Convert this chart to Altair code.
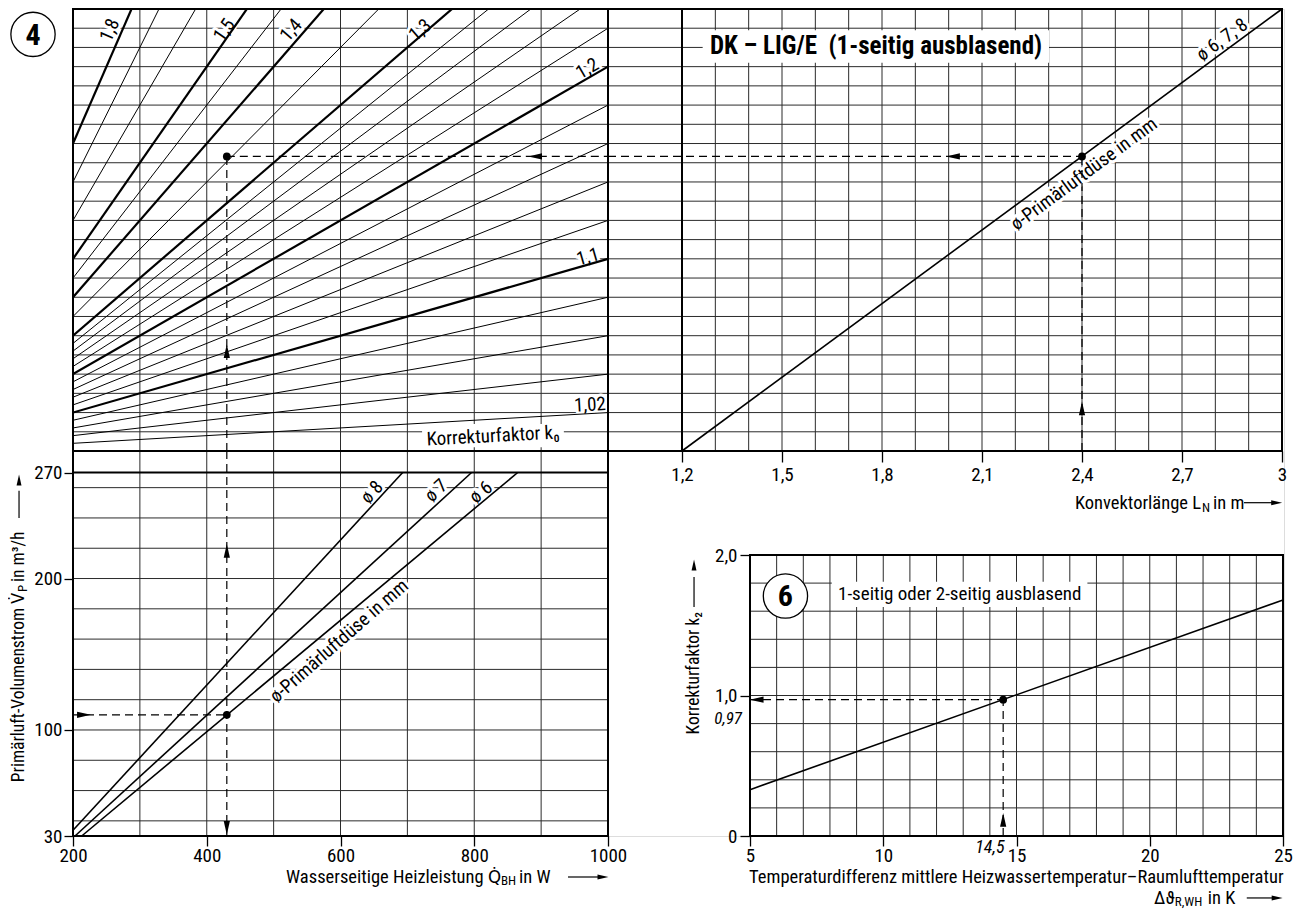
import altair as alt
import pandas as pd

FONT = "Liberation Sans Narrow, Arial Narrow, Roboto Condensed, DejaVu Sans Condensed, Liberation Sans, sans-serif"

# ================= values =================
# Panel 4, upper left: correction factor k0 fan (x = Q_BH in W, y = nomogram grid units 0..23)
k0_values   = [1.02, 1.04, 1.06, 1.08, 1.10, 1.12, 1.14, 1.16, 1.18, 1.20, 1.22,
               1.24, 1.26, 1.28, 1.30, 1.35, 1.40, 1.45, 1.50, 1.60, 1.70, 1.80]
k0_u_q200   = [0.4, 0.8, 1.2, 1.6, 2.0, 2.4, 2.8, 3.2, 3.6, 4.0, 4.4,
               4.8, 5.2, 5.6, 6.0, 7.0, 8.0, 9.0, 10.0, 12.0, 14.0, 16.0]
k0_u_q1000  = [2, 4, 6, 8, 10, 12, 14, 16, 18, 20, 22,
               24, 26, 28, 30, 35, 40, 45, 50, 60, 70, 80]
k0_bold     = [1.10, 1.20, 1.30, 1.40, 1.50, 1.80]
k0_lbl_text = ["1,8", "1,5", "1,4", "1,3", "1,2", "1,1", "1,02"]
k0_lbl_q    = [255, 426, 526, 719, 969, 970, 973]
k0_lbl_u    = [21.9, 21.9, 21.9, 21.9, 19.9, 10.1, 2.4]
k0_lbl_ang  = [293.5, 304.8, 311, 319.2, 330, 344, 356.7]

# Panel 4, upper right: convector length line (nozzles 6, 7, 8)
len_line_m = [1.2, 3.0]
len_line_u = [0, 23]
len_ticks  = [1.2, 1.5, 1.8, 2.1, 2.4, 2.7, 3.0]

# Panel 4, lower left: primary air volume flow vs. water-side heat output
nozzle_names   = ["ø 8", "ø 7", "ø 6"]
nozzle_q_start = [200, 203, 213]
nozzle_v_start = [33.8, 30, 30]
nozzle_q_end   = [693, 796, 865]
nozzle_v_end   = [270, 270, 270]
nozzle_lbl_q   = [647, 743, 810]
nozzle_lbl_v   = [257, 258, 257]
nozzle_lbl_ang = [312.7, 317.5, 320.2]
q_ticks = [200, 400, 600, 800, 1000]
v_ticks = [30, 100, 200, 270]

# Panel 6: correction factor k2 vs. temperature difference
dt_line  = [5, 25]
k2_line  = [0.33, 1.68]
dt_ticks = [5, 10, 15, 20, 25]
k2_ticks = [0, 1, 2]

# worked example
ex_q, ex_v, ex_len, ex_u, ex_dt, ex_k2 = 430, 110, 2.4, 15.33, 14.5, 0.97

# ================= layout: one scale pair per panel =================
W, H = 1211, 827
L_MIN = 0.978
V_TOP = 284.2
S = {
    "TL": (dict(domain=[200, 1000], range=[0, 535]), dict(domain=[0, 23], range=[442, 0])),
    "TR": (dict(domain=[L_MIN, 3.0], range=[535, 1209]), dict(domain=[0, 23], range=[442, 0])),
    "BL": (dict(domain=[200, 1000], range=[0, 535]), dict(domain=[30, V_TOP], range=[827, 442])),
    "P6": (dict(domain=[5, 25], range=[677, 1210]), dict(domain=[0, 2], range=[827, 546])),
}

LBL = 19      # labels on the diagrams
TTL = 18.5    # axis titles
SUB = 13      # subscripts


def E(p, x, y, x2=None, y2=None, xaxis=None, yaxis=None):
    sx, sy = S[p]
    d = {
        "x": alt.X(x, type="quantitative", scale=alt.Scale(nice=False, zero=False, **sx), axis=xaxis),
        "y": alt.Y(y, type="quantitative", scale=alt.Scale(nice=False, zero=False, **sy), axis=yaxis),
    }
    if x2 is not None:
        d["x2"] = alt.X2(x2)
    if y2 is not None:
        d["y2"] = alt.Y2(y2)
    return d


def rule_layer(p, rows, width=1.0, color="#2b2b2b", dash=None, clip=False, xaxis=None, yaxis=None):
    df = pd.DataFrame(rows, columns=["x0", "y0", "x1", "y1"])
    kw = dict(color=color, strokeWidth=width)
    if dash is not None:
        kw["strokeDash"] = dash
    if clip:
        kw["clip"] = True
    return alt.Chart(df).mark_rule(**kw).encode(**E(p, "x0", "y0", "x1", "y1", xaxis, yaxis))


def box_layer(p, rows, white=True, xaxis=None, yaxis=None):
    df = pd.DataFrame(rows, columns=["x0", "y0", "x1", "y1"])
    if white:
        mk = alt.Chart(df).mark_rect(color="white")
    else:
        mk = alt.Chart(df).mark_rect(filled=False, color="black", strokeWidth=2)
    return mk.encode(**E(p, "x0", "y0", "x1", "y1", xaxis, yaxis))


def text_layer(p, rows, size=LBL, align="center", weight="normal", style="normal", halo=False):
    df = pd.DataFrame(rows, columns=["x", "y", "t", "a"])
    enc = E(p, "x", "y")
    enc["text"] = alt.Text("t:N")
    enc["angle"] = alt.Angle("a:Q", scale=None)
    props = dict(font=FONT, fontSize=size, align=align, baseline="middle",
                 fontWeight=weight, fontStyle=style)
    if halo:
        mk = alt.Chart(df).mark_text(color="white", stroke="white", strokeWidth=6,
                                     strokeJoin="round", **props)
    else:
        mk = alt.Chart(df).mark_text(color="black", **props)
    return mk.encode(**enc)


ARROW = {
    "up": "M0,-1L0.45,1L-0.45,1Z",
    "down": "M0,1L0.45,-1L-0.45,-1Z",
    "left": "M-1,0L1,-0.45L1,0.45Z",
    "right": "M1,0L-1,-0.45L-1,0.45Z",
}


def arrow_layer(p, rows, size=190):
    df = pd.DataFrame([(x, y, ARROW[d]) for x, y, d in rows], columns=["x", "y", "s"])
    enc = E(p, "x", "y")
    enc["shape"] = alt.Shape("s:N", scale=None)
    return alt.Chart(df).mark_point(filled=True, color="black", opacity=1, size=size,
                                    strokeWidth=0).encode(**enc)


def dot_layer(p, rows, size=60):
    df = pd.DataFrame(rows, columns=["x", "y"])
    return alt.Chart(df).mark_circle(color="black", opacity=1, size=size).encode(**E(p, "x", "y"))


def ring_layer(p, rows, size=1960):
    df = pd.DataFrame(rows, columns=["x", "y"])
    return alt.Chart(df).mark_circle(color="white", opacity=1, size=size, stroke="black",
                                     strokeWidth=1.3).encode(**E(p, "x", "y"))


AX = dict(domain=False, grid=False, ticks=True, tickColor="black", tickWidth=1.3,
          labelFont=FONT, labelFontSize=19, labelColor="black", labelFlush=False,
          labelOverlap=False, labelBound=False, title=None)
comma1 = "replace(format(datum.value, '.1f'), '.', ',')"
ax_bl_x = alt.Axis(orient="bottom", offset=0, values=q_ticks, tickSize=10, labelPadding=0,
                   format="d", **AX)
ax_bl_y = alt.Axis(orient="left", offset=0, values=v_ticks, tickSize=9, labelPadding=2,
                   format="d", **AX)
ax_tr_x = alt.Axis(orient="bottom", offset=442 - H, values=len_ticks, tickSize=11, labelPadding=3,
                   labelExpr="datum.value == 3 ? '3' : " + comma1, **AX)
ax_p6_x = alt.Axis(orient="bottom", offset=0, values=dt_ticks, tickSize=10, labelPadding=0,
                   format="d", **AX)
ax_p6_y = alt.Axis(orient="left", offset=-677, values=k2_ticks, tickSize=10, labelPadding=3,
                   labelExpr="datum.value == 0 ? '0' : " + comma1, **AX)

layers = []

# ---------- grid lines ----------
tl_q_grid = list(range(300, 1000, 100))
grid_u = list(range(1, 23))
tr_l_grid = [round(1.2 + 0.1 * i, 1) for i in range(1, 18)]
bl_v_grid = list(range(40, 270, 20))
p6_t_grid = list(range(6, 25))
p6_k_grid = [round(0.2 * i, 1) for i in range(1, 10)]

layers.append(rule_layer("TL", [(200, u, 1000, u) for u in grid_u] + [(q, 0, q, 23) for q in tl_q_grid]))
layers.append(rule_layer("TR", [(L_MIN, u, 3.0, u) for u in grid_u] + [(l, 0, l, 23) for l in tr_l_grid]))
layers.append(rule_layer("BL", [(200, v, 1000, v) for v in bl_v_grid] + [(q, 30, q, V_TOP) for q in tl_q_grid]))
layers.append(rule_layer("P6", [(5, k, 25, k) for k in p6_k_grid] + [(t, 0, t, 2) for t in p6_t_grid]))

# heavier reference lines
layers.append(rule_layer("TR", [(1.2, 0, 1.2, 23)], width=2, color="black"))
layers.append(rule_layer("BL", [(200, 270, 1000, 270)], width=2.2, color="black"))

# ---------- white label backgrounds ----------
layers.append(box_layer("TR", [(1.262, 20.2, 2.301, 21.9)]))
layers.append(box_layer("TL", [(722, 0.2, 934, 1.4)]))
layers.append(box_layer("P6", [(8.07, 1.63, 17.66, 1.81)]))

tl_lbl_rows = list(zip(k0_lbl_q, k0_lbl_u, k0_lbl_text, k0_lbl_ang))
tr_lbl_rows = [(2.82, 21.4, "ø 6, 7, 8", 323.6), (2.406, 14.42, "ø-Primärluftdüse in mm", 323.6)]
bl_lbl_rows = list(zip(nozzle_lbl_q, nozzle_lbl_v, nozzle_names, nozzle_lbl_ang)) + \
    [(597.8, 158.7, "ø-Primärluftdüse in mm", 318.9)]
layers.append(text_layer("TL", tl_lbl_rows, halo=True))
layers.append(text_layer("TR", tr_lbl_rows, halo=True))
layers.append(text_layer("BL", bl_lbl_rows, halo=True))

# ---------- data lines ----------
thin = [(200, a, 1000, b) for k, a, b in zip(k0_values, k0_u_q200, k0_u_q1000) if k not in k0_bold]
bold = [(200, a, 1000, b) for k, a, b in zip(k0_values, k0_u_q200, k0_u_q1000) if k in k0_bold]
layers.append(rule_layer("TL", thin, width=1.0, color="black", clip=True))
layers.append(rule_layer("TL", bold, width=2.2, color="black", clip=True))
layers.append(rule_layer("TR", [(len_line_m[0], len_line_u[0], len_line_m[1], len_line_u[1])],
                         width=1.6, color="black"))
layers.append(rule_layer("BL", list(zip(nozzle_q_start, nozzle_v_start, nozzle_q_end, nozzle_v_end)),
                         width=1.6, color="black"))
layers.append(rule_layer("P6", [(dt_line[0], k2_line[0], dt_line[1], k2_line[1])], width=1.6, color="black"))

# ---------- worked example (dashed) ----------
DASH = [8, 5]
layers.append(rule_layer("TL", [(ex_q, 0, ex_q, ex_u), (ex_q, ex_u, 1000, ex_u)], width=1.2, color="black", dash=DASH))
layers.append(rule_layer("TR", [(L_MIN, ex_u, ex_len, ex_u), (ex_len, 0, ex_len, ex_u)], width=1.2, color="black", dash=DASH))
layers.append(rule_layer("BL", [(ex_q, 30, ex_q, V_TOP), (200, ex_v, ex_q, ex_v)], width=1.2, color="black", dash=DASH))
layers.append(rule_layer("P6", [(5, ex_k2, ex_dt, ex_k2), (ex_dt, 0, ex_dt, ex_k2)], width=1.2, color="black", dash=DASH))

# ---------- panel borders + axes ----------
layers.append(box_layer("TL", [(200, 0, 1000, 23)], white=False))
layers.append(box_layer("TR", [(L_MIN, 0, 3.0, 23)], white=False, xaxis=ax_tr_x))
layers.append(box_layer("BL", [(200, 30, 1000, V_TOP)], white=False, xaxis=ax_bl_x, yaxis=ax_bl_y))
layers.append(box_layer("P6", [(5, 0, 25, 2)], white=False, xaxis=ax_p6_x, yaxis=ax_p6_y))

# ---------- dots and arrows ----------
layers.append(dot_layer("TL", [(ex_q, ex_u)]))
layers.append(dot_layer("TR", [(ex_len, ex_u)]))
layers.append(dot_layer("BL", [(ex_q, ex_v)]))
layers.append(dot_layer("P6", [(ex_dt, ex_k2)]))
layers.append(arrow_layer("TL", [(ex_q, 5.2, "up"), (891, ex_u, "left")]))
layers.append(arrow_layer("TR", [(2.013, ex_u, "left"), (ex_len, 2.22, "up")]))
layers.append(arrow_layer("BL", [(ex_q, 218.2, "up"), (ex_q, 35.3, "down"), (216.4, ex_v, "right")]))
layers.append(arrow_layer("P6", [(5.25, ex_k2, "left"), (ex_dt, 0.114, "up")]))

# ---------- panel numbers ----------
layers.append(ring_layer("TL", [(140.2, 21.68)]))
layers.append(ring_layer("P6", [(6.33, 1.708)]))
layers.append(text_layer("TL", [(140.2, 21.62, "4", 0)], size=30, weight="bold"))
layers.append(text_layer("P6", [(6.33, 1.70, "6", 0)], size=30, weight="bold"))

# ---------- labels ----------
layers.append(text_layer("TL", tl_lbl_rows))
layers.append(text_layer("TR", tr_lbl_rows))
layers.append(text_layer("BL", bl_lbl_rows))
layers.append(text_layer("TL", [(828, 0.78, "Korrekturfaktor k₀", 357)]))
layers.append(text_layer("TR", [(1.782, 21.09, "DK – LIG/E\u00a0\u00a0(1-seitig ausblasend)", 0)], size=25, weight="bold"))
layers.append(text_layer("P6", [(12.87, 1.72, "1-seitig oder 2-seitig ausblasend", 0)]))

# axis titles built from text pieces (with subscripts) and arrow signs
layers.append(text_layer("TR", [(2.757, -2.69, "Konvektorlänge L", 0)], size=TTL, align="right"))
layers.append(text_layer("TR", [(2.760, -2.95, "N", 0)], size=SUB, align="left"))
layers.append(text_layer("TR", [(2.793, -2.69, "in m", 0)], size=TTL, align="left"))
layers.append(rule_layer("TR", [(2.886, -2.69, 2.972, -2.69)], width=1.2, color="black"))
layers.append(arrow_layer("TR", [(2.984, -2.69, "right")], size=120))

layers.append(text_layer("BL", [(840, 2.93, "Wasserseitige Heizleistung Q̇", 0)], size=TTL, align="right"))
layers.append(text_layer("BL", [(840, 0.3, "BH", 0)], size=SUB, align="left"))
layers.append(text_layer("BL", [(867, 2.93, "in W", 0)], size=TTL, align="left"))
layers.append(rule_layer("BL", [(940.2, 2.93, 985, 2.93)], width=1.2, color="black"))
layers.append(arrow_layer("BL", [(992.5, 2.93, "right")], size=120))

layers.append(text_layer("BL", [(119.3, 190.4, "Primärluft-Volumenstrom V̇", 270)], size=17.5, align="right"))
layers.append(text_layer("BL", [(124.8, 191.1, "P", 270)], size=SUB, align="left"))
layers.append(text_layer("BL", [(119.3, 197.7, "in m³/h", 270)], size=17.5, align="left"))
layers.append(rule_layer("BL", [(119.3, 240.0, 119.3, 257.9)], width=1.2, color="black"))
layers.append(arrow_layer("BL", [(119.3, 265.0, "up")], size=120))

layers.append(text_layer("P6", [(2.90, 1.594, "Korrekturfaktor k₂", 270)], size=17.5, align="right"))
layers.append(rule_layer("P6", [(2.90, 1.630, 2.90, 1.843)], width=1.2, color="black"))
layers.append(arrow_layer("P6", [(2.90, 1.929, "up")], size=120))

layers.append(text_layer("P6", [(25.02, -0.292, "Temperaturdifferenz mittlere Heizwassertemperatur–Raumlufttemperatur", 0)],
                         size=18.5, align="right"))
layers.append(text_layer("P6", [(20.94, -0.441, "Δϑ", 0)], size=TTL, align="right"))
layers.append(text_layer("P6", [(20.94, -0.470, "R,WH", 0)], size=SUB, align="left"))
layers.append(text_layer("P6", [(22.18, -0.441, "in K", 0)], size=TTL, align="left"))
layers.append(rule_layer("P6", [(23.64, -0.441, 24.61, -0.441)], width=1.2, color="black"))
layers.append(arrow_layer("P6", [(24.78, -0.441, "right")], size=120))

layers.append(text_layer("P6", [(14.55, -0.085, "14,5", 0)], size=18, align="right", style="italic"))
layers.append(text_layer("P6", [(4.70, 0.830, "0,97", 0)], size=17, align="right", style="italic"))

chart = (
    alt.layer(*layers)
    .resolve_scale(x="independent", y="independent")
    .properties(width=W, height=H, padding={"top": 0, "bottom": 0, "left": 0, "right": 0})
    .configure_view(stroke=None)
    .configure(font=FONT)
)

chart.save("out.html", embed_options={"renderer": "svg", "actions": False})
